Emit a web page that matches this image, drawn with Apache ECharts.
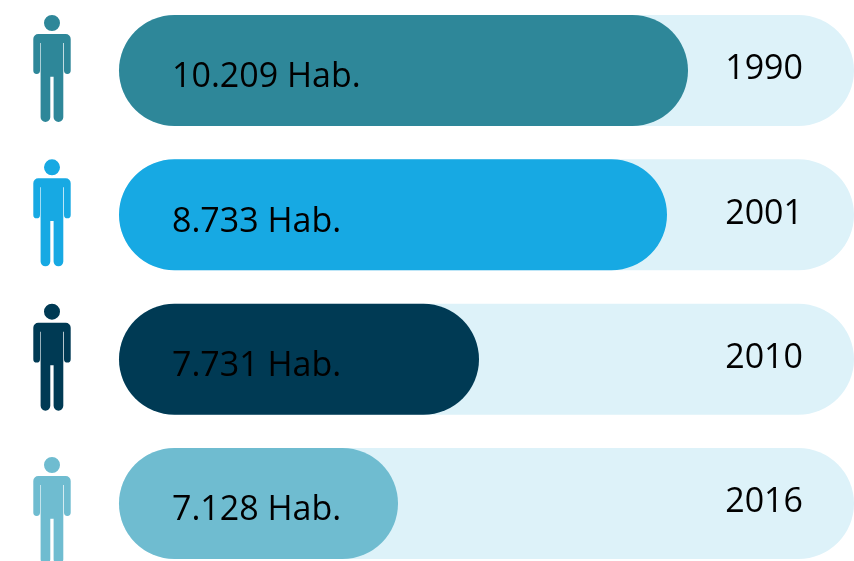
<!DOCTYPE html>
<html>
<head>
<meta charset="utf-8">
<style>
  html, body { margin: 0; padding: 0; background: #fff; }
  #chart { width: 854px; height: 561px; }
</style>
<script src="https://cdn.jsdelivr.net/npm/echarts@6/dist/echarts.min.js"></script>
</head>
<body>
<div id="chart"></div>
<script>
const years = ['1990', '2001', '2010', '2016'];
const habLabels = ['10.209 Hab.', '8.733 Hab.', '7.731 Hab.', '7.128 Hab.'];
// drawn lengths, they do not scale with the labels
const barLengths = [569, 548, 360, 279];
const trackLengths = [735, 735, 735, 735];
const barColors = ['#2E8799', '#17A9E3', '#003A54', '#6FBCD0'];
const personRow = [0, 0, 0, 0];
const personShift = [-2, -2, -2, 7];

const personPath = 'path://M18.7 0a8 8 0 1 1 0 16a8 8 0 1 1 0-16z' +
  'M5 19H32.4a5 5 0 0 1 5 5V55.6a3.35 3.35 0 0 1-6.7 0V28H30V102.15a4.85 4.85 0 0 1-9.7 0V61.7H17V102.15a4.85 4.85 0 0 1-9.7 0V28H6.7V55.6a3.35 3.35 0 0 1-6.7 0V24a5 5 0 0 1 5-5z';

const fontFamily = '"Open Sans", sans-serif';
const chart = echarts.init(document.getElementById('chart'));

chart.setOption({
  animation: false,
  // rows sit on the ticks (boundaryGap false), so the grid spans first to last row centre
  grid: [
    {left: 119, top: 70.5, width: 735, height: 433},
    {left: 0, top: 70.5, width: 104, height: 433}
  ],
  xAxis: [
    {type: 'value', min: 0, max: 735, show: false, gridIndex: 0},
    {type: 'value', min: -1, max: 1, show: false, gridIndex: 1}
  ],
  yAxis: [
    {type: 'category', data: years, inverse: true, boundaryGap: false, show: false, gridIndex: 0},
    {type: 'category', data: years, inverse: true, boundaryGap: false, show: false, gridIndex: 1}
  ],
  series: [{
    name: 'track',
    type: 'bar',
    data: trackLengths,
    barWidth: 111,
    barGap: '-100%',
    clip: false,
    itemStyle: {color: '#DDF2F9', borderRadius: 55.5},
    label: {
      show: true,
      position: 'insideRight',
      distance: 51,
      offset: [0, -1],
      formatter: (p) => p.name,
      fontFamily: fontFamily,
      fontSize: 34,
      color: '#000'
    },
    silent: true
  }, {
    name: 'population',
    type: 'bar',
    data: barLengths.map((v, i) => ({value: v, itemStyle: {color: barColors[i]}})),
    barWidth: 111,
    barGap: '-100%',
    clip: false,
    itemStyle: {borderRadius: 55.5},
    label: {
      show: true,
      position: 'insideLeft',
      distance: 53,
      offset: [0, 7],
      formatter: (p) => habLabels[p.dataIndex],
      fontFamily: fontFamily,
      fontSize: 34,
      color: '#000'
    }
  }, {
    name: 'person',
    type: 'scatter',
    xAxisIndex: 1,
    yAxisIndex: 1,
    clip: false,
    symbol: personPath,
    symbolSize: [37.4, 107],
    data: personRow.map((v, i) => ({
      value: [v, i],
      symbolOffset: [0, personShift[i]],
      itemStyle: {color: barColors[i], opacity: 1}
    }))
  }]
});
</script>
</body>
</html>
